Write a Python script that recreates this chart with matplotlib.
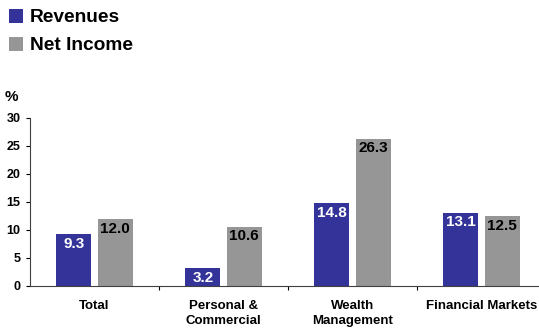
import matplotlib
matplotlib.use("Agg")
import matplotlib.pyplot as plt
import numpy as np

categories = ["Total", "Personal &\nCommercial", "Wealth\nManagement", "Financial Markets"]
revenues = [9.3, 3.2, 14.8, 13.1]
net_income = [12.0, 10.6, 26.3, 12.5]
yticks = [0, 5, 10, 15, 20, 25, 30]

plt.rcParams['font.family'] = ['Liberation Sans', 'DejaVu Sans']
plt.rcParams['font.weight'] = 'bold'

BLUE = '#333399'
GRAY = '#969696'

fig = plt.figure(figsize=(5.39, 3.34), dpi=100)
ax = fig.add_axes([30/539, 48/334, 516/539, 168/334])

x = np.arange(len(categories))
w = 0.27
off = 0.16
b1 = ax.bar(x - off, revenues, w, color=BLUE, label='Revenues')
b2 = ax.bar(x + off, net_income, w, color=GRAY, label='Net Income')

for rect, v in zip(b1, revenues):
    ax.annotate(f"{v:.1f}", (rect.get_x() + rect.get_width()/2, rect.get_height()),
                xytext=(0, -2), textcoords='offset points', ha='center', va='top',
                color='white', fontsize=11, fontweight='bold')
for rect, v in zip(b2, net_income):
    ax.annotate(f"{v:.1f}", (rect.get_x() + rect.get_width()/2, rect.get_height()),
                xytext=(0, -2), textcoords='offset points', ha='center', va='top',
                color='black', fontsize=11, fontweight='bold')

ax.set_xlim(-0.5, 3.5)
ax.set_ylim(0, 30)
ax.set_yticks(yticks)
ax.set_yticklabels([str(t) for t in yticks], fontsize=9, fontweight='bold')
ax.tick_params(axis='y', direction='out', length=3, width=0.8, pad=4)

ax.set_xticks([0.5, 1.5, 2.5])
ax.set_xticklabels([])
ax.tick_params(axis='x', which='major', direction='out', length=3, width=0.8)
ax.set_xticks(x, minor=True)
ax.set_xticklabels(categories, minor=True, fontsize=9.5, fontweight='bold', linespacing=1.3)
ax.tick_params(axis='x', which='minor', length=0, pad=10)

for s in ['top', 'right']:
    ax.spines[s].set_visible(False)
ax.spines['left'].set_color('#404040')
ax.spines['bottom'].set_color('#404040')
ax.spines['left'].set_linewidth(0.8)
ax.spines['bottom'].set_linewidth(0.8)

fig.text(5/539, 1 - 97/334, '%', fontsize=11, fontweight='bold', va='center', ha='left')

fig.legend(handles=[b1, b2], labels=['Revenues', 'Net Income'], loc='upper left',
           bbox_to_anchor=(0.0, 1.0), frameon=False,
           prop={'weight': 'bold', 'size': 13.75},
           handlelength=0.75, handleheight=0.75, handletextpad=0.35,
           labelspacing=0.55, borderaxespad=0.1, borderpad=0.35)

fig.savefig('out.png', dpi=100)
